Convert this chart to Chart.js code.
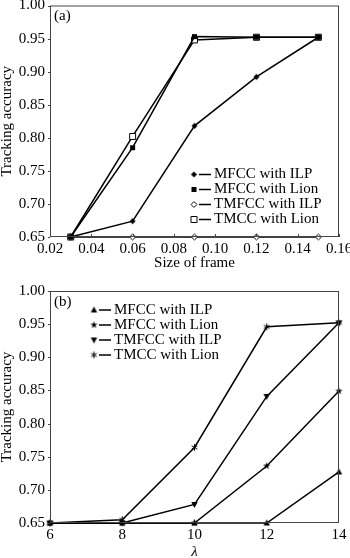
<!DOCTYPE html>
<html>
<head>
<meta charset="utf-8">
<script src="https://cdn.jsdelivr.net/npm/chart.js@4"></script>
<style>
html, body { margin: 0; padding: 0; background: #fff; width: 350px; height: 558px; overflow: hidden; }
canvas { position: absolute; left: 0; }
#chartA { top: 0; }
#chartB { top: 278px; }
</style>
</head>
<body>
<canvas id="chartA" width="350" height="278"></canvas>
<canvas id="chartB" width="350" height="290"></canvas>
<script>
// panel (a): accuracy against frame size
var frameSizes = [0.03, 0.06, 0.09, 0.12, 0.15];
var mfccIlpA = [0.65, 0.674, 0.818, 0.892, 0.952];
var mfccLionA = [0.65, 0.785, 0.953, 0.952, 0.952];
var tmfccIlpA = [0.65, 0.65, 0.65, 0.65, 0.65];
var tmccLionA = [0.65, 0.802, 0.948, 0.952, 0.952];

// panel (b): accuracy against lambda
var lambdas = [6, 8, 10, 12, 14];
var mfccIlpB = [0.65, 0.65, 0.65, 0.65, 0.727];
var mfccLionB = [0.65, 0.65, 0.65, 0.736, 0.849];
var tmfccIlpB = [0.65, 0.65, 0.678, 0.841, 0.952];
var tmccLionB = [0.65, 0.655, 0.764, 0.946, 0.952];

var frameTicks = [0.02, 0.04, 0.06, 0.08, 0.10, 0.12, 0.14, 0.16];
var lambdaTicks = [6, 8, 10, 12, 14];
var accuracyTicks = [0.65, 0.70, 0.75, 0.80, 0.85, 0.90, 0.95, 1.00];

var labelsA = ['MFCC with ILP', 'MFCC with Lion', 'TMFCC with ILP', 'TMCC with Lion'];
var labelsB = ['MFCC with ILP', 'MFCC with Lion', 'TMFCC with ILP', 'TMCC with Lion'];

var serif = 'Liberation Serif, Times New Roman, serif';

// little marker images used as point styles and in the legend
function marker(kind) {
	var c = document.createElement('canvas');
	c.width = 9; c.height = 9;
	var g = c.getContext('2d');
	g.translate(4.5, 4.5);
	g.fillStyle = '#000';
	g.strokeStyle = '#000';
	g.lineWidth = 1;
	g.beginPath();
	if (kind == 'diamond' || kind == 'openDiamond') {
		g.moveTo(0, -3); g.lineTo(3, 0); g.lineTo(0, 3); g.lineTo(-3, 0); g.closePath();
	} else if (kind == 'square') {
		g.rect(-2.5, -2.5, 5, 5);
	} else if (kind == 'openSquare') {
		g.rect(-3, -3, 6, 6);
	} else if (kind == 'triUp') {
		g.moveTo(0, -3.5); g.lineTo(3.2, 2.5); g.lineTo(-3.2, 2.5); g.closePath();
	} else if (kind == 'triDown') {
		g.moveTo(0, 3.5); g.lineTo(3.2, -2.5); g.lineTo(-3.2, -2.5); g.closePath();
	} else if (kind == 'star') {
		for (var i = 0; i < 10; i++) {
			var r = i % 2 ? 1.5 : 3.8;
			var a = -Math.PI / 2 + i * Math.PI / 5;
			if (i == 0) g.moveTo(r * Math.cos(a), r * Math.sin(a));
			else g.lineTo(r * Math.cos(a), r * Math.sin(a));
		}
		g.closePath();
	} else if (kind == 'asterisk') {
		for (var j = 0; j < 3; j++) {
			var b = j * Math.PI / 3 + Math.PI / 2;
			g.moveTo(3.3 * Math.cos(b), 3.3 * Math.sin(b));
			g.lineTo(-3.3 * Math.cos(b), -3.3 * Math.sin(b));
		}
		g.stroke();
		return c;
	}
	if (kind == 'openDiamond' || kind == 'openSquare') {
		g.fillStyle = '#fff';
		g.fill();
		g.stroke();
	} else {
		g.fill();
	}
	return c;
}

var stylesA = [marker('diamond'), marker('square'), marker('openDiamond'), marker('openSquare')];
var stylesB = [marker('triUp'), marker('star'), marker('triDown'), marker('asterisk')];

function makeSets(xs, series, labels, styles) {
	return series.map(function(ys, k) {
		return {
			label: labels[k],
			data: xs.map(function(x, i) { return {x: x, y: ys[i]}; }),
			borderColor: '#000',
			backgroundColor: '#000',
			borderWidth: 1.5,
			pointStyle: styles[k],
			pointRadius: 3,
			tension: 0,
			clip: false
		};
	});
}

// frame, small axis ticks, panel tag and the legend
var decorPlugin = {
	id: 'decor',
	afterDraw: function(chart, args, opts) {
		var ctx = chart.ctx, ca = chart.chartArea;
		var xs = chart.scales.x, ys = chart.scales.y;
		ctx.save();
		ctx.strokeStyle = '#444';
		ctx.lineWidth = 1;
		ctx.strokeRect(ca.left + 0.5, ca.top + 0.5, ca.right - ca.left - 1, ca.bottom - ca.top - 1);
		ctx.beginPath();
		ys.ticks.forEach(function(t) {
			var py = Math.round(ys.getPixelForValue(t.value)) + 0.5;
			ctx.moveTo(ca.left - 2, py); ctx.lineTo(ca.left, py);
		});
		if (opts.xTicks) {
			xs.ticks.forEach(function(t) {
				var px = Math.round(xs.getPixelForValue(t.value)) + 0.5;
				ctx.moveTo(px, ca.bottom); ctx.lineTo(px, ca.bottom - 3);
			});
		}
		ctx.stroke();

		ctx.fillStyle = '#000';
		ctx.font = '15px ' + serif;
		ctx.textBaseline = 'middle';
		ctx.textAlign = 'left';
		ctx.fillText(opts.tag, ca.left + 4, ca.top + 11);

		var lx = ca.left + opts.legendX, ly = ca.top + opts.legendY;
		chart.data.datasets.forEach(function(ds, k) {
			var y = ly + k * 15;
			var img = ds.pointStyle;
			ctx.drawImage(img, lx - img.width / 2, y - img.height / 2);
			ctx.beginPath();
			ctx.lineWidth = 1.5;
			ctx.strokeStyle = '#000';
			ctx.moveTo(lx + 5, y); ctx.lineTo(lx + 17, y);
			ctx.stroke();
			ctx.fillText(ds.label, lx + 20, y);
		});
		ctx.restore();
	}
};

function makeOptions(xMin, xMax, xTicks, xFmt, xTitle, xItalic, axisH, pad, decor) {
	return {
		responsive: false,
		animation: false,
		layout: {padding: pad},
		plugins: {legend: {display: false}, tooltip: {enabled: false}, decor: decor},
		scales: {
			x: {
				type: 'linear',
				min: xMin,
				max: xMax,
				grid: {display: false, drawTicks: false},
				border: {display: false},
				afterBuildTicks: function(s) { s.ticks = xTicks.map(function(v) { return {value: v}; }); },
				afterFit: function(s) { s.height = axisH; s.paddingLeft = 0; s.paddingRight = 0; },
				ticks: {
					color: '#000',
					padding: 3,
					maxRotation: 0,
					autoSkip: false,
					font: {family: serif, size: 15},
					callback: xFmt
				},
				title: {
					display: true,
					text: xTitle,
					color: '#000',
					padding: 0,
					font: {family: serif, size: 15, lineHeight: 1, style: xItalic ? 'italic' : 'normal'}
				}
			},
			y: {
				type: 'linear',
				min: 0.65,
				max: 1.0,
				grid: {display: false, drawTicks: false},
				border: {display: false},
				afterBuildTicks: function(s) { s.ticks = accuracyTicks.map(function(v) { return {value: v}; }); },
				afterFit: function(s) { s.width = 50; s.paddingTop = 0; s.paddingBottom = 0; },
				ticks: {
					color: '#000',
					padding: 5,
					autoSkip: false,
					font: {family: serif, size: 15},
					callback: function(v) { return v.toFixed(2); }
				},
				title: {
					display: true,
					text: 'Tracking accuracy',
					color: '#000',
					padding: 0,
					font: {family: serif, size: 15, lineHeight: 1}
				}
			}
		}
	};
}

new Chart(document.getElementById('chartA'), {
	type: 'line',
	data: {datasets: makeSets(frameSizes, [mfccIlpA, mfccLionA, tmfccIlpA, tmccLionA], labelsA, stylesA)},
	options: makeOptions(0.02, 0.16, frameTicks, function(v) { return v.toFixed(2); }, 'Size of frame', false, 33.5,
		{left: 0, right: 11, top: 4, bottom: 7.5},
		{tag: '(a)', xTicks: true, legendX: 144, legendY: 169}),
	plugins: [decorPlugin]
});

new Chart(document.getElementById('chartB'), {
	type: 'line',
	data: {datasets: makeSets(lambdas, [mfccIlpB, mfccLionB, tmfccIlpB, tmccLionB], labelsB, stylesB)},
	options: makeOptions(6, 14, lambdaTicks, function(v) { return String(v); }, 'λ', true, 36.5,
		{left: 0, right: 11, top: 13, bottom: 8.5},
		{tag: '(b)', xTicks: false, legendX: 44, legendY: 19}),
	plugins: [decorPlugin]
});
</script>
</body>
</html>
